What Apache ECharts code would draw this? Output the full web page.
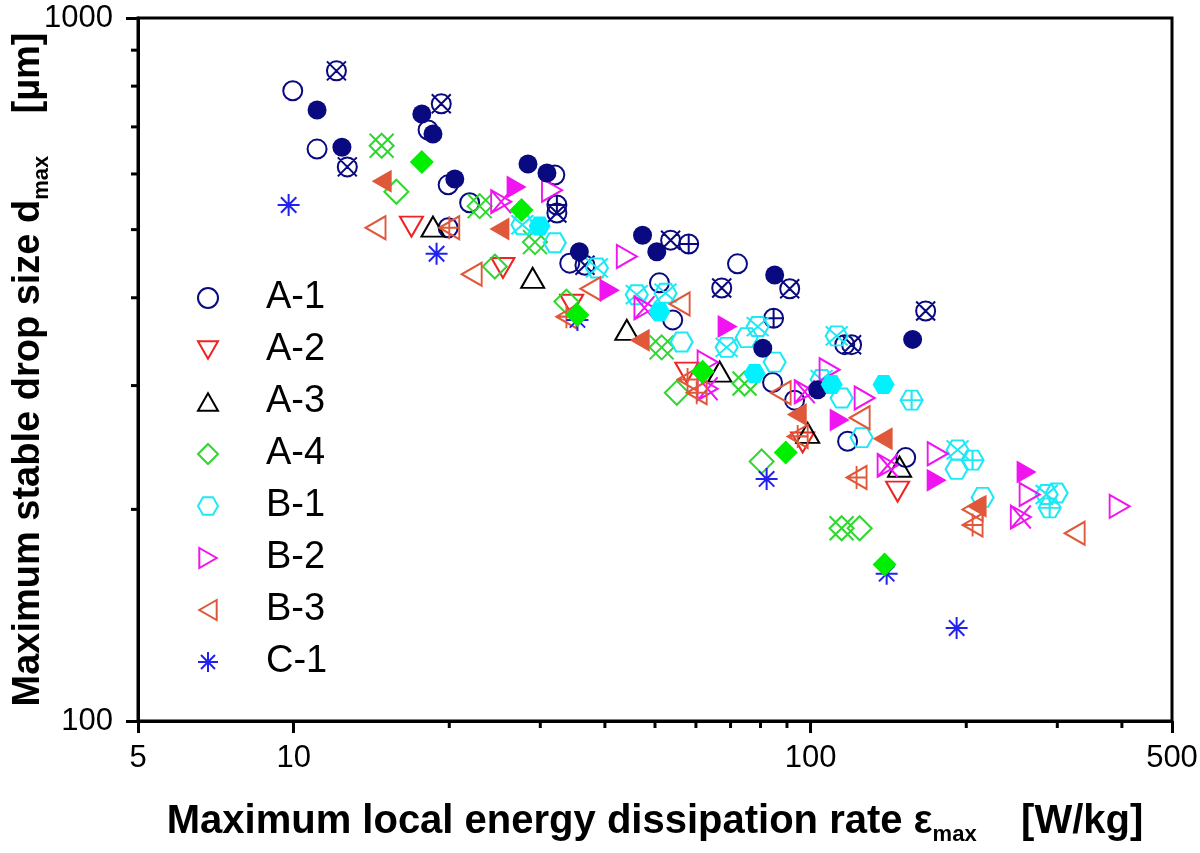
<!DOCTYPE html>
<html><head><meta charset="utf-8">
<script src="https://cdn.jsdelivr.net/npm/echarts@6/dist/echarts.min.js"></script>
<style>html,body{margin:0;padding:0;background:#fff}#c{width:1200px;height:853px}</style>
</head><body><div id="c"></div>
<script>
// ---- data (x: epsilon_max [W/kg], y: d_max [um]) ----
const A1_open = [[9.96,788],[11.1,651],[18.2,693],[19.9,579],[21.9,546],[19.9,503],[32.0,598],[34.2,448],[51.0,420],[54.1,372],[72.2,447],[84.4,303],[93.1,286],[116.4,343],[117.9,250],[152.7,237]];
const A1_filled = [[11.1,740],[12.4,655],[17.7,730],[18.6,684],[20.5,590],[28.4,620],[30.9,602],[35.7,465],[47.3,491],[50.4,465],[85.2,431],[80.8,339],[103.2,296],[157.5,349]];
const A1_cross = [[12.1,841],[12.7,614],[19.3,755],[32.3,528],[36.6,445],[53.6,483],[67.3,413],[91.1,412],[120.0,343],[166.9,383]];
const A1_plus = [[32.3,542],[58.1,477],[84.8,374]];
const A2_open = [[16.9,505],[25.4,441],[34.5,391],[57.6,313],[96.5,249],[147.3,212]];
const A3_open = [[18.6,505],[29.0,427],[44.1,360],[66.7,314],[98.7,257],[148.6,230]];
const A4_open = [[15.8,566],[24.5,443],[33.7,395],[55.1,293],[80.4,234],[124.4,188]];
const A4_filled = [[17.7,624],[27.6,533],[35.4,378],[61.8,314],[89.5,241],[139.0,167]];
const A4_cross = [[14.8,658],[22.9,540],[29.3,480],[51.5,340],[74.5,302],[114.8,188]];
const B1_open = [[32.0,479],[56.3,346],[75.2,351],[85.2,324],[114.8,288],[125.5,253],[191.6,228],[215.1,208],[299.1,211]];
const B1_filled = [[29.9,506],[51.0,382],[77.9,312],[109.8,301],[138.4,301]];
const B1_cross = [[27.7,508],[38.6,441],[46.1,404],[52.4,406],[68.8,340],[79.0,364],[105.0,306],[112.3,353],[192.4,243],[286.1,210]];
const B1_plus = [[156.8,286],[205.7,235],[290.0,201]];
const B2_open = [[31.6,569],[44.1,458],[63.2,324],[108.8,316],[127.2,288],[176.1,240],[265.2,210],[396.0,202]];
const B2_filled = [[27.0,575],[40.9,410],[69.1,364],[113.8,268],[175.3,220],[261.7,226]];
const B2_cross = [[25.2,548],[47.7,387],[63.2,297],[97.4,294],[140.9,231],[255.0,195]];
const B3_open = [[14.4,503],[22.1,432],[37.5,412],[55.8,392],[87.5,293],[124.4,270],[205.7,200],[324.1,185]];
const B3_filled = [[14.8,586],[25.0,501],[46.7,348],[94.0,273],[137.8,252],[209.4,202]];
const B3_plus = [[20.0,503],[33.7,376],[57.8,306],[60.2,293],[94.4,254],[122.7,222],[205.7,190]];
const C1_open = [[9.78,542],[18.9,462],[35.4,372],[82.2,221],[140.3,162],[191.6,135.6]];

const xMinorTicks = [20,30,40,50,60,70,80,90,200,300,400];
const yMinorTicks = [200,300,400,500,600,700,800,900];
const legendNames = ['A-1','A-2','A-3','A-4','B-1','B-2','B-3','C-1'];

// ---- symbols ----
const P = {
  circleX: 'path://M50 0A50 50 0 1 1 49.99 0ZM0 0L100 100M100 0L0 100',
  circlePlus: 'path://M50 0A50 50 0 1 1 49.99 0ZM50 0L50 100M0 50L100 50',
  triDown: 'path://M0 0L100 0L50 87Z',
  triUp: 'path://M50 0L100 87L0 87Z',
  diamond: 'path://M50 0L100 50L50 100L0 50Z',
  diamondX: 'path://M50 0L100 50L50 100L0 50ZM0 0L100 100M100 0L0 100',
  hex: 'path://M25 0L75 0L100 43.3L75 86.6L25 86.6L0 43.3Z',
  hexX: 'path://M25 0L75 0L100 43.3L75 86.6L25 86.6L0 43.3ZM0 0L100 86.6M100 0L0 86.6',
  hexPlus: 'path://M25 0L75 0L100 43.3L75 86.6L25 86.6L0 43.3ZM50 0L50 86.6M0 43.3L100 43.3',
  triRight: 'path://M0 0L87 50L0 100Z',
  triRightX: 'path://M0 0L87 50L0 100ZM0 0L87 100M87 0L0 100',
  triLeft: 'path://M87 0L0 50L87 100Z',
  triLeftPlus: 'path://M87 0L0 50L87 100ZM43.5 0L43.5 100M0 50L87 50',
  star: 'path://M50 0L50 100M0 50L100 50M15 15L85 85M85 15L15 85'
};
const C = {A1:'#0a0a80',A2:'#f02222',A3:'#000000',A4:'#2fd62f',A4f:'#00ee00',B1:'#1ee8f5',B1f:'#00f2ff',B2:'#f014f0',B3:'#e0583a',C1:'#2222ee'};

function S(name, data, symbol, size, color, filled) {
  return {
    name, type: 'scatter', data, symbol, symbolSize: size,
    itemStyle: filled ? {color: color, borderColor: color, borderWidth: 0, opacity: 1}
                      : {color: 'rgba(255,255,255,0)', borderColor: color, borderWidth: 2, opacity: 1},
    emphasis: {disabled: true}, silent: true
  };
}

const FONT = '"Liberation Sans", Arial, sans-serif';
const series = [
  S('A-1', A1_open, 'circle', 19, C.A1, false),
  S('A-1 x', A1_cross, P.circleX, 19, C.A1, false),
  S('A-1 +', A1_plus, P.circlePlus, 19, C.A1, false),
  S('A-2', A2_open, P.triDown, [23,20], C.A2, false),
  S('A-3', A3_open, P.triUp, [23,20], C.A3, false),
  S('A-4', A4_open, P.diamond, [24,24], C.A4, false),
  S('A-4 x', A4_cross, P.diamondX, [24,24], C.A4, false),
  S('B-1', B1_open, P.hex, [22,19], C.B1, false),
  S('B-1 x', B1_cross, P.hexX, [22,19], C.B1, false),
  S('B-1 +', B1_plus, P.hexPlus, [22,19], C.B1, false),
  S('B-2', B2_open, P.triRight, [20,23], C.B2, false),
  S('B-2 x', B2_cross, P.triRightX, [20,23], C.B2, false),
  S('B-3', B3_open, P.triLeft, [20,23], C.B3, false),
  S('B-3 +', B3_plus, P.triLeftPlus, [20,23], C.B3, false),
  S('C-1', C1_open, P.star, [22,22], C.C1, false),
  S('A-1 f', A1_filled, 'circle', 19, C.A1, true),
  S('A-4 f', A4_filled, P.diamond, [24,24], C.A4f, true),
  S('B-1 f', B1_filled, P.hex, [22,19], C.B1f, true),
  S('B-2 f', B2_filled, P.triRight, [20,23], C.B2, true),
  S('B-3 f', B3_filled, P.triLeft, [20,23], C.B3, true),
  {
    type: 'custom', name: 'xminor', silent: true, clip: false, z: 5,
    data: xMinorTicks.map(v => [v, 100]),
    renderItem: (params, api) => {
      const p = api.coord([api.value(0), api.value(1)]);
      return {type: 'line', shape: {x1: p[0], y1: p[1], x2: p[0], y2: p[1] + 7}, style: {stroke: '#000', lineWidth: 3}};
    }
  },
  {
    type: 'custom', name: 'yminor', silent: true, clip: false, z: 5,
    data: yMinorTicks.map(v => [5, v]),
    renderItem: (params, api) => {
      const p = api.coord([api.value(0), api.value(1)]);
      return {type: 'line', shape: {x1: p[0] - 7, y1: p[1], x2: p[0], y2: p[1]}, style: {stroke: '#000', lineWidth: 3}};
    }
  }
];

const chart = echarts.init(document.getElementById('c'), null, {renderer: 'canvas'});
chart.setOption({
  animation: false,
  backgroundColor: '#fff',
  textStyle: {fontFamily: FONT},
  grid: {left: 138, right: 28, top: 18, bottom: 132, containLabel: false, outerBoundsMode: 'none',
    show: true, borderColor: '#000', borderWidth: 3, backgroundColor: 'transparent'},
  legend: {
    data: legendNames, orient: 'vertical', left: 197, top: 279, padding: 0,
    itemWidth: 20, itemHeight: 20, itemGap: 14, selectedMode: false,
    textStyle: {fontFamily: FONT, fontSize: 38, color: '#000', padding: [0, 0, 0, 43]}
  },
  xAxis: {
    type: 'log', logBase: 10, min: 5, max: 500,
    axisLine: {show: true, lineStyle: {color: '#000', width: 3}},
    axisTick: {show: true, length: 12, lineStyle: {color: '#000', width: 3}},
    splitLine: {show: false}, minorTick: {show: false},
    axisLabel: {show: true, showMinLabel: true, showMaxLabel: true, margin: 22, color: '#000', fontSize: 31, fontFamily: FONT,
      formatter: v => String(Math.round(v))},
    name: '{t|Maximum local energy dissipation rate ε}{s|max}{t|    [W/kg]}',
    nameLocation: 'middle', nameGap: 77, nameMoveOverlap: false,
    nameTextStyle: {rich: {
      t: {fontFamily: FONT, fontSize: 40, fontWeight: 'bold', color: '#000'},
      s: {fontFamily: FONT, fontSize: 22, fontWeight: 'bold', color: '#000', padding: [26, 0, 0, 0]}
    }}
  },
  yAxis: {
    type: 'log', logBase: 10, min: 100, max: 1000,
    axisLine: {show: true, lineStyle: {color: '#000', width: 3}},
    axisTick: {show: true, length: 12, lineStyle: {color: '#000', width: 3}},
    splitLine: {show: false}, minorTick: {show: false},
    axisLabel: {show: true, showMinLabel: true, showMaxLabel: true, margin: 25, color: '#000', fontSize: 31, fontFamily: FONT,
      formatter: v => String(Math.round(v))},
    name: '{t|Maximum stable drop size d}{s|max}{t|    [µm]}',
    nameLocation: 'middle', nameGap: 85, nameRotate: 90, nameMoveOverlap: false,
    nameTextStyle: {rich: {
      t: {fontFamily: FONT, fontSize: 38, fontWeight: 'bold', color: '#000'},
      s: {fontFamily: FONT, fontSize: 22, fontWeight: 'bold', color: '#000', padding: [26, 0, 0, 0]}
    }}
  },
  series
});
</script></body></html>
